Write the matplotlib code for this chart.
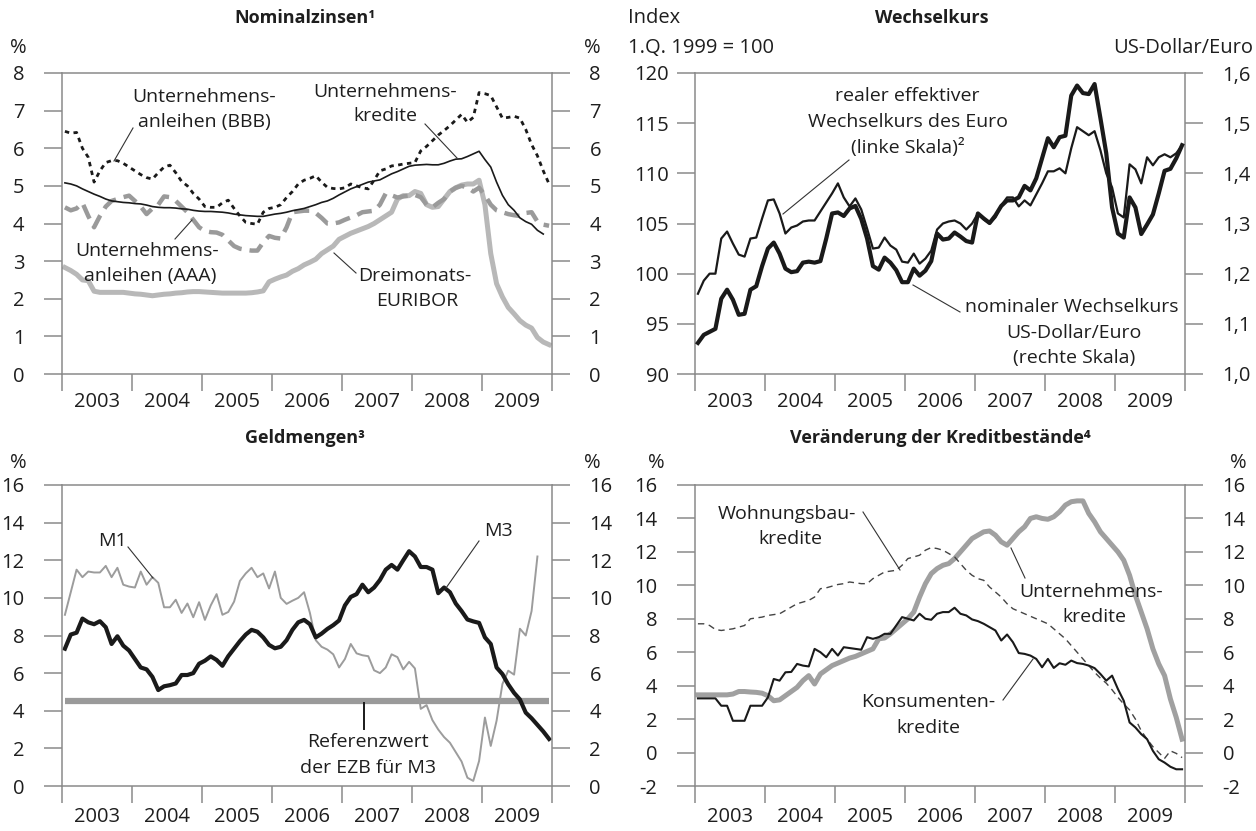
import numpy as np
import matplotlib
matplotlib.use("Agg")
import matplotlib.pyplot as plt
from matplotlib.lines import Line2D
from matplotlib.ticker import FixedLocator, NullFormatter, FuncFormatter

W, H = 1256, 831
plt.rcParams['font.family'] = ['Open Sans', 'DejaVu Sans']
plt.rcParams['axes.unicode_minus'] = False

# ---------------- data (monthly, Jan 2003 - Dec 2009) ----------------
years = [2003, 2004, 2005, 2006, 2007, 2008, 2009]

# Panel 1: Nominalzinsen (%)
bbb = [6.45, 6.4, 6.42, 6.0, 5.76, 5.1, 5.4, 5.62, 5.67, 5.67, 5.6, 5.5,
       5.4, 5.3, 5.22, 5.18, 5.35, 5.5, 5.55, 5.35, 5.12, 5.0, 4.8, 4.65,
       4.45, 4.43, 4.43, 4.55, 4.62, 4.4, 4.2, 4.03, 4.0, 3.98, 4.3, 4.4,
       4.43, 4.5, 4.69, 4.85, 5.05, 5.15, 5.2, 5.27, 5.1, 4.96, 4.93, 4.92,
       4.95, 5.05, 5.0, 4.95, 4.92, 5.15, 5.4, 5.45, 5.53, 5.55, 5.58, 5.6,
       5.62, 5.93, 6.05, 6.2, 6.35, 6.47, 6.6, 6.75, 6.9, 6.69, 6.82, 7.48,
       7.45, 7.4, 7.1, 6.8, 6.82, 6.85, 6.8, 6.5, 6.1, 5.8, 5.4, 5.05]
kredite = [5.08, 5.05, 5.0, 4.92, 4.85, 4.78, 4.72, 4.65, 4.6, 4.58, 4.56, 4.55,
           4.53, 4.52, 4.49, 4.45, 4.43, 4.42, 4.42, 4.41, 4.39, 4.38, 4.35, 4.33,
           4.32, 4.32, 4.31, 4.3, 4.28, 4.25, 4.23, 4.21, 4.2, 4.19, 4.19, 4.22,
           4.25, 4.27, 4.3, 4.34, 4.37, 4.4, 4.45, 4.5, 4.56, 4.6, 4.67, 4.76,
           4.84, 4.92, 4.98, 5.04, 5.1, 5.13, 5.16, 5.24, 5.32, 5.38, 5.45, 5.52,
           5.55, 5.56, 5.57, 5.56, 5.56, 5.6, 5.66, 5.71, 5.72, 5.78, 5.85, 5.92,
           5.7, 5.5, 5.1, 4.75, 4.5, 4.35, 4.15, 4.05, 3.98, 3.82, 3.72, np.nan]
aaa = [4.43, 4.35, 4.4, 4.55, 4.2, 3.9, 4.2, 4.45, 4.6, 4.65, 4.7, 4.74,
       4.6, 4.45, 4.25, 4.4, 4.5, 4.72, 4.7, 4.6, 4.45, 4.3, 4.1, 3.9,
       3.8, 3.77, 3.76, 3.7, 3.55, 3.4, 3.33, 3.3, 3.28, 3.28, 3.5, 3.67,
       3.62, 3.6, 3.9, 4.3, 4.32, 4.34, 4.34, 4.28, 4.15, 4.0, 4.0, 4.03,
       4.1, 4.16, 4.22, 4.3, 4.32, 4.34, 4.5, 4.8, 4.75, 4.69, 4.72, 4.74,
       4.76, 4.7, 4.5, 4.43, 4.55, 4.65, 4.85, 4.95, 5.0, 4.96, 4.85, 4.95,
       4.75, 4.5, 4.35, 4.3, 4.25, 4.22, 4.2, 4.28, 4.3, 4.05, 3.97, 3.94]
euribor = [2.83, 2.75, 2.65, 2.5, 2.48, 2.2, 2.17, 2.17, 2.17, 2.17, 2.17, 2.15,
           2.13, 2.12, 2.1, 2.08, 2.1, 2.12, 2.13, 2.15, 2.16, 2.18, 2.19, 2.19,
           2.18, 2.17, 2.16, 2.15, 2.15, 2.15, 2.15, 2.15, 2.16, 2.18, 2.21, 2.45,
           2.52, 2.58, 2.63, 2.73, 2.8, 2.9, 2.97, 3.05, 3.2, 3.3, 3.4, 3.58,
           3.66, 3.74, 3.8, 3.86, 3.92, 4.0, 4.1, 4.2, 4.3, 4.65, 4.74, 4.74,
           4.85, 4.8, 4.5, 4.43, 4.45, 4.65, 4.85, 4.95, 5.02, 5.05, 5.05, 5.15,
           4.5, 3.2, 2.4, 2.05, 1.77, 1.6, 1.42, 1.3, 1.22, 0.97, 0.85, 0.78]

# Panel 2: Wechselkurs
real_eff = [98.0, 99.3, 100.0, 100.0, 103.5, 104.2, 103.0, 101.9, 101.7, 103.5, 103.6, 105.5,
            107.3, 107.4, 106.0, 104.0, 104.6, 104.8, 105.2, 105.3, 105.3, 106.2, 107.1, 108.0,
            109.0, 107.6, 106.7, 107.5, 106.4, 104.5, 102.5, 102.6, 103.6, 102.8, 102.4, 101.2,
            101.1, 102.0, 101.0, 101.5, 102.3, 104.4, 105.0, 105.2, 105.3, 105.0, 104.4, 105.0,
            106.0, 105.4, 105.0, 105.6, 106.8, 107.6, 107.6, 106.7, 107.3, 106.8, 107.9, 109.0,
            110.2, 110.2, 110.5, 110.0, 112.5, 114.6, 114.2, 113.8, 114.2, 112.3, 110.0, 108.6,
            106.0, 105.6, 110.9, 110.4, 109.0, 111.6, 110.8, 111.6, 111.9, 111.6, 112.0, 112.8]
usd_eur = [1.062, 1.078, 1.084, 1.09, 1.15, 1.168, 1.148, 1.118, 1.12, 1.168, 1.175, 1.215,
           1.25, 1.262, 1.24, 1.21, 1.203, 1.205, 1.222, 1.224, 1.222, 1.225, 1.27, 1.32,
           1.322, 1.315, 1.33, 1.335, 1.309, 1.27, 1.215, 1.208, 1.232, 1.222, 1.207, 1.183,
           1.183, 1.21, 1.196, 1.206, 1.225, 1.28, 1.268, 1.27, 1.282, 1.274, 1.265, 1.262,
           1.32, 1.31, 1.301, 1.316, 1.335, 1.346, 1.346, 1.352, 1.375, 1.366, 1.39, 1.43,
           1.47, 1.452, 1.472, 1.475, 1.555, 1.575, 1.56, 1.558, 1.578, 1.51, 1.44, 1.332,
           1.28, 1.272, 1.352, 1.332, 1.279, 1.298, 1.318, 1.36, 1.405, 1.409, 1.43, 1.456]

# Panel 3: Geldmengen (%)
m1 = [9.1, 10.3, 11.5, 11.1, 11.4, 11.35, 11.35, 11.7, 11.1, 11.6, 10.7, 10.6,
      10.55, 11.4, 10.7, 11.1, 10.8, 9.5, 9.5, 9.9, 9.2, 9.7, 8.97, 9.77,
      8.83, 9.6, 10.2, 9.1, 9.25, 9.8, 10.9, 11.3, 11.6, 11.1, 11.3, 10.5,
      11.4, 10.0, 9.68, 9.85, 10.0, 10.3, 9.2, 7.75, 7.4, 7.25, 7.0, 6.3,
      6.75, 7.55, 7.05, 6.95, 6.9, 6.15, 6.0, 6.3, 7.0, 6.85, 6.2, 6.6,
      6.25, 4.1, 4.3, 3.5, 3.0, 2.6, 2.3, 1.8, 1.3, 0.44, 0.27, 1.33,
      3.64, 2.13, 3.47, 5.42, 6.13, 5.92, 8.36, 8.0, 9.3, 12.2, np.nan, np.nan]
m3 = [7.3, 8.05, 8.15, 8.9, 8.7, 8.6, 8.76, 8.44, 7.55, 7.96, 7.46, 7.2,
      6.75, 6.3, 6.2, 5.8, 5.1, 5.3, 5.36, 5.45, 5.9, 5.9, 6.0, 6.5,
      6.66, 6.89, 6.7, 6.39, 6.9, 7.3, 7.7, 8.05, 8.3, 8.2, 7.9, 7.5,
      7.32, 7.4, 7.75, 8.3, 8.7, 8.83, 8.6, 7.9, 8.1, 8.35, 8.55, 8.8,
      9.6, 10.05, 10.2, 10.7, 10.3, 10.55, 10.95, 11.5, 11.75, 11.5, 12.0, 12.48,
      12.2, 11.64, 11.64, 11.5, 10.25, 10.55, 10.3, 9.7, 9.3, 8.85, 8.75, 8.67,
      7.9, 7.55, 6.3, 5.95, 5.4, 4.95, 4.6, 3.9, 3.6, 3.25, 2.9, 2.5]
ref_m3 = 4.5

# Panel 4: Veränderung der Kreditbestände (%)
wohnungsbau = [7.7, 7.7, 7.6, 7.36, 7.3, 7.35, 7.4, 7.5, 7.6, 8.0, 8.05, 8.1,
               8.2, 8.25, 8.3, 8.5, 8.7, 8.9, 9.0, 9.1, 9.3, 9.8, 9.85, 9.95,
               10.05, 10.1, 10.2, 10.15, 10.1, 10.1, 10.4, 10.6, 10.8, 10.85, 10.9, 11.2,
               11.6, 11.7, 11.8, 12.1, 12.26, 12.2, 12.1, 11.9, 11.7, 11.3, 10.9, 10.6,
               10.4, 10.3, 9.9, 9.6, 9.3, 8.9, 8.6, 8.45, 8.3, 8.15, 8.0, 7.85,
               7.7, 7.4, 7.1, 6.8, 6.4, 6.0, 5.6, 5.2, 4.8, 4.45, 4.15, 3.75,
               3.3, 2.9, 2.55, 2.0, 1.3, 0.8, 0.35, 0.0, -0.35, 0.1, -0.05, -0.3]
unternehmen = [3.45, 3.45, 3.45, 3.45, 3.45, 3.45, 3.5, 3.65, 3.65, 3.62, 3.6, 3.55,
               3.4, 3.1, 3.15, 3.4, 3.65, 3.9, 4.3, 4.6, 4.1, 4.7, 4.95, 5.2,
               5.35, 5.5, 5.65, 5.75, 5.9, 6.05, 6.2, 6.8, 6.85, 7.1, 7.4, 7.7,
               8.0, 8.4, 9.3, 10.1, 10.7, 11.0, 11.2, 11.3, 11.6, 12.0, 12.4, 12.8,
               13.0, 13.2, 13.25, 13.0, 12.6, 12.4, 12.8, 13.2, 13.5, 14.0, 14.1, 14.0,
               13.95, 14.1, 14.4, 14.8, 15.0, 15.05, 15.05, 14.3, 13.8, 13.2, 12.8, 12.4,
               12.0, 11.5, 10.6, 9.4, 8.4, 7.4, 6.2, 5.3, 4.6, 3.2, 2.1, 0.8]
konsumenten = [3.24, 3.24, 3.24, 3.24, 2.8, 2.8, 1.9, 1.9, 1.9, 2.8, 2.8, 2.8,
               3.3, 4.4, 4.3, 4.8, 4.82, 5.3, 5.2, 5.15, 6.2, 6.0, 5.7, 6.2,
               5.8, 6.3, 6.25, 6.2, 6.15, 6.9, 6.8, 6.9, 7.1, 7.1, 7.6, 8.1,
               8.0, 7.9, 8.3, 8.0, 7.94, 8.3, 8.4, 8.4, 8.66, 8.3, 8.2, 7.96,
               7.86, 7.7, 7.5, 7.3, 6.7, 7.06, 6.6, 5.95, 5.9, 5.8, 5.6, 5.1,
               5.6, 5.06, 5.34, 5.25, 5.5, 5.35, 5.3, 5.2, 5.05, 4.7, 4.3, 4.6,
               3.8, 3.1, 1.8, 1.5, 1.1, 0.8, 0.1, -0.4, -0.6, -0.85, -1.0, -1.0]

# ---------------- styling ----------------
AX = '#8a8a8a'
TXT = '#1e1e1e'
BLK = '#1a1a1a'
FS_TICK = 14.5
FS_ANN = 14
FS_TITLE = 13

months = 2003 + (np.arange(84) + 0.5) / 12.0

fig = plt.figure(figsize=(W / 100, H / 100), dpi=100)


def rect(l, r, t, b):
    return [l / W, 1 - b / H, (r - l) / W, (b - t) / H]


def ftext(x, y, s, **kw):
    kw.setdefault('color', TXT)
    kw.setdefault('fontsize', FS_ANN)
    kw.setdefault('ha', 'center')
    kw.setdefault('va', 'center')
    fig.text(x / W, 1 - y / H, s, **kw)


def leader(x1, y1, x2, y2, lw=0.8, color='#333333'):
    fig.add_artist(Line2D([x1 / W, x2 / W], [1 - y1 / H, 1 - y2 / H],
                          transform=fig.transFigure, lw=lw, color=color))


def style(ax, ylim, yticks, ypad, xpad, fmt=None, right=True):
    ax.set_xlim(2003, 2010)
    ax.set_ylim(*ylim)
    for s in ax.spines.values():
        s.set_color(AX)
        s.set_linewidth(1.1)
    ax.set_yticks(yticks)
    if fmt is not None:
        ax.yaxis.set_major_formatter(FuncFormatter(fmt))
    ax.tick_params(axis='y', which='major', direction='out', length=13, width=1.1,
                   color=AX, left=True, right=right, labelleft=True, labelright=right,
                   labelsize=FS_TICK, labelcolor=TXT, pad=ypad)
    ax.xaxis.set_major_locator(FixedLocator(list(range(2003, 2011))))
    ax.xaxis.set_major_formatter(NullFormatter())
    ax.xaxis.set_minor_locator(FixedLocator([y + 0.5 for y in years]))
    ax.set_xticklabels([str(y) for y in years], minor=True)
    ax.tick_params(axis='x', which='major', direction='out', length=12, width=1.1, color=AX)
    ax.tick_params(axis='x', which='minor', length=0, labelsize=FS_TICK, labelcolor=TXT, pad=xpad)
    ax.set_facecolor('none')


# ---------------- Panel 1 ----------------
ax1 = fig.add_axes(rect(62, 552, 73, 374))
style(ax1, (0, 8), range(0, 9), 14, 13)
ax1.plot(months, euribor, color='#b8b8b8', lw=3.6, solid_joinstyle='round')
ax1.plot(months, aaa, color='#9a9a9a', lw=3.2, dashes=(3.4, 1.8))
ax1.plot(months, kredite, color=BLK, lw=1.2)
ax1.plot(months, bbb, color=BLK, lw=2.0, dashes=(1.6, 1.6))

ftext(305, 18, 'Nominalzinsen\u00b9', fontsize=FS_TITLE, fontweight='bold')
ftext(18, 48, '%', fontsize=FS_TICK)
ftext(592, 48, '%', fontsize=FS_TICK)
ftext(204, 97, 'Unternehmens-')
ftext(204, 122, 'anleihen (BBB)')
leader(114, 161, 133, 128)
ftext(385, 92, 'Unternehmens-')
ftext(385, 116, 'kredite')
leader(425, 124, 457, 158)
ftext(147, 251, 'Unternehmens-')
ftext(150, 276, 'anleihen (AAA)')
leader(175, 239, 192, 220)
ftext(415, 276, 'Dreimonats-')
ftext(417, 301, 'EURIBOR')
leader(334, 253, 356, 273)

# ---------------- Panel 2 ----------------
ax2 = fig.add_axes(rect(695, 1185, 73, 374))
style(ax2, (90, 120), range(90, 121, 5), 6, 13, right=False)
ax2.plot(months, real_eff, color=BLK, lw=1.6, solid_joinstyle='round')
ax2b = ax2.twinx()
ax2b.set_ylim(1.0, 1.6)
ax2b.set_yticks([1.0, 1.1, 1.2, 1.3, 1.4, 1.5, 1.6])
ax2b.yaxis.set_major_formatter(FuncFormatter(lambda v, p: ('%.1f' % v).replace('.', ',')))
ax2b.tick_params(axis='y', direction='out', length=13, width=1.1, color=AX,
                 labelsize=FS_TICK, labelcolor=TXT, pad=14)
for s in ax2b.spines.values():
    s.set_visible(False)
ax2b.plot(months, usd_eur, color=BLK, lw=3.0, solid_joinstyle='round')

ftext(932, 18, 'Wechselkurs', fontsize=FS_TITLE, fontweight='bold')
ftext(628, 18, 'Index', fontsize=FS_TICK, ha='left')
ftext(628, 48, '1.Q. 1999 = 100', fontsize=FS_TICK, ha='left')
ftext(1253, 48, 'US-Dollar/Euro', fontsize=FS_TICK, ha='right')
ftext(907, 96, 'realer effektiver')
ftext(908, 122, 'Wechselkurs des Euro')
ftext(908, 147, '(linke Skala)\u00b2')
leader(783, 214, 849, 160)
ftext(1072, 307, 'nominaler Wechselkurs')
ftext(1074, 333, 'US-Dollar/Euro')
ftext(1074, 358, '(rechte Skala)')
leader(913, 285, 960, 312)

# ---------------- Panel 3 ----------------
ax3 = fig.add_axes(rect(62, 552, 485, 786))
style(ax3, (0, 16), range(0, 17, 2), 14, 15)
ax3.plot(months, np.full(len(months), ref_m3), color='#9a9a9a', lw=4.5, solid_capstyle='butt')
ax3.plot(months, m1, color='#9c9c9c', lw=1.4)
ax3.plot(months, m3, color=BLK, lw=3.0, solid_joinstyle='round')

ftext(305, 438, 'Geldmengen\u00b3', fontsize=FS_TITLE, fontweight='bold')
ftext(18, 463, '%', fontsize=FS_TICK)
ftext(592, 463, '%', fontsize=FS_TICK)
ftext(112, 541, 'M1')
leader(128, 547, 153, 578)
ftext(498, 531, 'M3')
leader(479, 541, 446, 588)
ftext(368, 742, 'Referenzwert')
ftext(368, 768, 'der EZB für M3')
leader(364, 703, 364, 729, lw=1.4, color=BLK)

# ---------------- Panel 4 ----------------
ax4 = fig.add_axes(rect(695, 1185, 485, 786))
style(ax4, (-2, 16), range(-2, 17, 2), 14, 15)
ax4.plot(months, unternehmen, color='#a0a0a0', lw=3.6, solid_joinstyle='round')
ax4.plot(months, wohnungsbau, color='#444444', lw=1.0, dashes=(4.6, 3.3))
ax4.plot(months, konsumenten, color=BLK, lw=1.5)

ftext(940, 438, 'Veränderung der Kreditbestände\u2074', fontsize=FS_TITLE, fontweight='bold')
ftext(656, 463, '%', fontsize=FS_TICK)
ftext(1238, 463, '%', fontsize=FS_TICK)
ftext(787, 514, 'Wohnungsbau-')
ftext(790, 539, 'kredite')
leader(863, 512, 900, 570)
ftext(1091, 592, 'Unternehmens-')
ftext(1094, 617, 'kredite')
leader(1011, 548, 1025, 578)
ftext(928, 702, 'Konsumenten-')
ftext(928, 728, 'kredite')
leader(1003, 700, 1033, 659)

fig.savefig('out.png', dpi=100)
